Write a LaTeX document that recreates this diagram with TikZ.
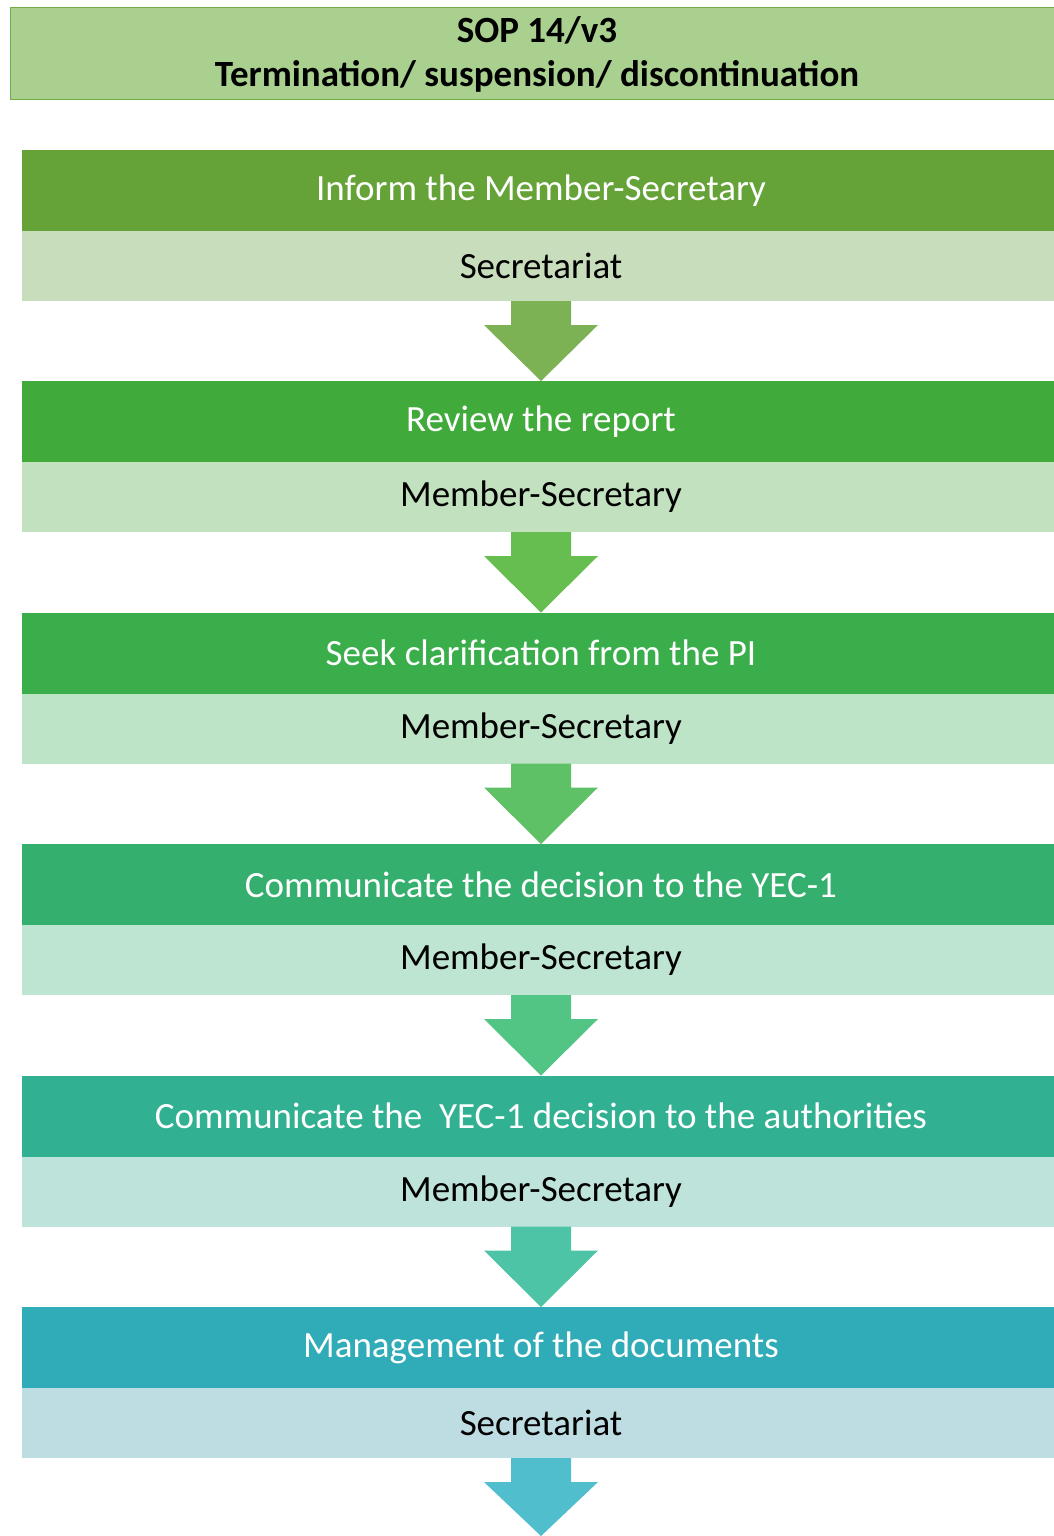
\documentclass[tikz,border=0pt]{standalone}
\usepackage{fontspec}
\setmainfont{Carlito}
\usepackage{tikz}
\usetikzlibrary{positioning,calc}
\usepackage{xcolor}
\definecolor{sopborder}{RGB}{112,173,71}
\definecolor{soptitle}{RGB}{169,208,142}
\definecolor{stepa}{RGB}{101,163,57}
\definecolor{stepb}{RGB}{64,170,58}
\definecolor{stepc}{RGB}{57,174,74}
\definecolor{stepd}{RGB}{52,175,109}
\definecolor{stepe}{RGB}{50,176,146}
\definecolor{stepf}{RGB}{48,172,184}
\definecolor{rolea}{RGB}{200,221,187}
\definecolor{roleb}{RGB}{194,226,191}
\definecolor{rolec}{RGB}{190,228,199}
\definecolor{roled}{RGB}{190,228,210}
\definecolor{rolee}{RGB}{190,227,218}
\definecolor{rolef}{RGB}{190,221,226}
\definecolor{arra}{RGB}{124,177,84}
\definecolor{arrb}{RGB}{102,190,80}
\definecolor{arrc}{RGB}{95,193,102}
\definecolor{arrd}{RGB}{82,196,132}
\definecolor{arre}{RGB}{78,196,166}
\definecolor{arrf}{RGB}{80,190,204}
\tikzstyle{titlebox} = [rectangle, minimum width=1054pt, minimum height=92pt, inner sep=0pt, align=center, draw=sopborder, fill=soptitle, line width=1pt, font=\fontsize{37}{44}\selectfont\bfseries]
\tikzstyle{stepbox} = [rectangle, minimum width=1038pt, minimum height=81pt, inner sep=0pt, outer sep=0pt, text=white, font=\fontsize{37}{40}\selectfont]
\tikzstyle{rolebox} = [rectangle, minimum width=1038pt, minimum height=70pt, inner sep=0pt, outer sep=0pt, text=black, font=\fontsize{37}{40}\selectfont]
% block arrow from the bottom of one box to the top of the next
\newcommand{\steparrow}[3]{%
  \fill[#3] ($(#1.south)+(-30pt,0)$) -- ($(#1.south)+(30pt,0)$) -- ($(#1.south)+(30pt,-24pt)$)
    -- ($(#1.south)+(57pt,-24pt)$) -- (#2) -- ($(#1.south)+(-57pt,-24pt)$)
    -- ($(#1.south)+(-30pt,-24pt)$) -- cycle;}
\begin{document}
\begin{tikzpicture}[x=1pt, y=-1pt]
\useasboundingbox[fill=white] (0,0) rectangle (1054,1536);
% Title
\node (sop) [titlebox] at (537,54) {SOP 14/v3\\Termination/ suspension/ discontinuation};

% Steps and who does them
\node (inform) [stepbox, fill=stepa] at (541,190.5) {Inform the Member-Secretary};
\node (informby) [rolebox, fill=rolea, below=0pt of inform] {Secretariat};
\node (review) [stepbox, fill=stepb, below=80pt of informby] {Review the report};
\node (reviewby) [rolebox, fill=roleb, below=0pt of review] {Member-Secretary};
\node (clarify) [stepbox, fill=stepc, below=80.5pt of reviewby] {Seek clarification from the PI};
\node (clarifyby) [rolebox, fill=rolec, below=0pt of clarify] {Member-Secretary};
\node (decide) [stepbox, fill=stepd, below=80.5pt of clarifyby] {Communicate the decision to the YEC-1};
\node (decideby) [rolebox, fill=roled, below=0pt of decide] {Member-Secretary};
\node (notify) [stepbox, fill=stepe, below=80.5pt of decideby] {Communicate the \ YEC-1 decision to the authorities};
\node (notifyby) [rolebox, fill=rolee, below=0pt of notify] {Member-Secretary};
\node (archive) [stepbox, fill=stepf, below=80.5pt of notifyby] {Management of the documents};
\node (archiveby) [rolebox, fill=rolef, below=0pt of archive] {Secretariat};
\coordinate (finish) at (archiveby.south |- 0,1536);

% Arrows
\steparrow{informby}{review.north}{arra}
\steparrow{reviewby}{clarify.north}{arrb}
\steparrow{clarifyby}{decide.north}{arrc}
\steparrow{decideby}{notify.north}{arrd}
\steparrow{notifyby}{archive.north}{arre}
\steparrow{archiveby}{finish}{arrf}
\end{tikzpicture}
\end{document}
